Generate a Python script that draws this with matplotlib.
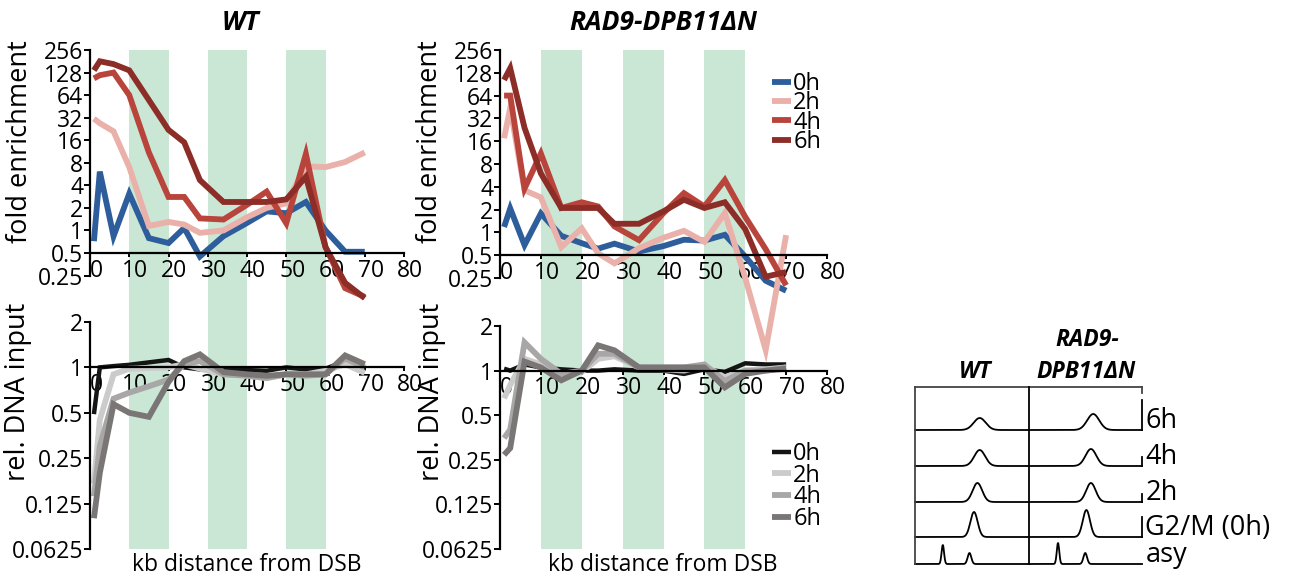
import numpy as np
import matplotlib
matplotlib.use("Agg")
import matplotlib.pyplot as plt
from matplotlib.transforms import ScaledTranslation

plt.rcParams['font.family'] = ['Open Sans', 'DejaVu Sans']

# ---------------- data ----------------
kb = [1, 2.5, 6, 10, 15, 20, 24, 28, 34, 40, 45, 50, 55, 60, 65, 70]
hours = ['0h', '2h', '4h', '6h']

# fold enrichment (ChIP), WT
wt_fold_0h = [0.72, 6.1, 0.84, 3.1, 0.79, 0.68, 1.08, 0.45, 0.84, 1.26, 1.8, 1.7, 2.4, 1.0, 0.52, 0.52]
wt_fold_2h = [31, 27, 21, 7.0, 1.15, 1.3, 1.2, 0.93, 1.0, 1.5, 2.0, 2.3, 7.2, 7.0, 8.2, 11]
wt_fold_4h = [107, 118, 128, 64, 11, 2.8, 2.8, 1.45, 1.4, 2.2, 3.3, 1.25, 10.5, 0.6, 0.17, 0.13]
wt_fold_6h = [137, 181, 166, 137, 55, 22, 15, 4.7, 2.4, 2.4, 2.4, 2.6, 5.2, 0.6, 0.2, 0.125]

# fold enrichment, RAD9-DPB11dN
mut_fold_0h = [1.18, 2.07, 0.68, 1.78, 0.9, 0.72, 0.61, 0.71, 0.56, 0.66, 0.8, 0.78, 0.93, 0.48, 0.23, 0.17]
mut_fold_2h = [17.5, 44, 3.6, 2.9, 0.64, 1.13, 0.53, 0.39, 0.62, 0.85, 1.05, 0.75, 1.8, 0.25, 0.028, 0.92]
mut_fold_4h = [64, 64, 3.8, 11, 2.1, 2.5, 2.2, 1.2, 0.79, 1.8, 3.3, 2.2, 4.9, 1.6, 0.6, 0.2]
mut_fold_6h = [103, 147, 24, 6, 2.1, 2.1, 2.1, 1.3, 1.3, 1.9, 2.7, 2.1, 2.5, 1.1, 0.26, 0.3]

# relative DNA input, WT
wt_inp_0h = [0.49, 1.0, 1.02, 1.04, 1.08, 1.12, 1.0, 0.97, 0.98, 0.96, 0.95, 1.0, 0.97, 0.98, 1.1, 1.05]
wt_inp_2h = [0.17, 0.45, 0.9, 0.98, 0.99, 1.0, 1.05, 0.98, 0.9, 0.88, 0.85, 0.9, 0.9, 0.95, 1.05, 0.92]
wt_inp_4h = [0.14, 0.3, 0.62, 0.68, 0.75, 0.83, 1.05, 1.1, 0.9, 0.88, 0.85, 0.9, 0.88, 0.9, 1.15, 1.0]
wt_inp_6h = [0.1, 0.2, 0.57, 0.5, 0.47, 0.8, 1.1, 1.22, 0.93, 0.9, 0.88, 0.9, 0.9, 0.9, 1.2, 1.05]

# relative DNA input, RAD9-DPB11dN
mut_inp_0h = [1.03, 1.0, 1.1, 1.05, 1.02, 1.0, 1.0, 1.02, 1.0, 1.0, 0.95, 1.02, 0.98, 1.12, 1.1, 1.1]
mut_inp_2h = [0.65, 0.8, 1.2, 1.1, 0.95, 0.98, 1.2, 1.25, 1.05, 1.02, 1.0, 1.08, 0.9, 1.0, 1.02, 1.05]
mut_inp_4h = [0.35, 0.4, 1.55, 1.2, 0.95, 1.0, 1.3, 1.3, 1.05, 1.05, 1.05, 1.1, 0.85, 1.0, 1.0, 1.05]
mut_inp_6h = [0.27, 0.3, 1.15, 1.05, 0.86, 1.0, 1.48, 1.37, 1.05, 1.05, 1.05, 1.05, 0.77, 0.95, 1.0, 1.03]

bands = [(10, 20), (30, 40), (50, 60)]
fold_ticks = [0.25, 0.5, 1, 2, 4, 8, 16, 32, 64, 128, 256]
fold_labels = ['0.25', '0.5', '1', '2', '4', '8', '16', '32', '64', '128', '256']
inp_ticks = [0.0625, 0.125, 0.25, 0.5, 1, 2]
inp_labels = ['0.0625', '0.125', '0.25', '0.5', '1', '2']
x_ticks = [0, 10, 20, 30, 40, 50, 60, 70, 80]

# FACS profiles (rows bottom->top), peak position as fraction of lane, height, width
facs_rows = ['asy', 'G2/M (0h)', '2h', '4h', '6h']
wt_peak_pos = [[0.245, 0.48], [0.52], [0.55], [0.57], [0.57]]
wt_peak_h = [[19, 11], [25], [19], [16], [12]]
wt_peak_w = [[0.011, 0.016], [0.032], [0.042], [0.048], [0.053]]
mut_peak_pos = [[0.26, 0.50], [0.51], [0.55], [0.55], [0.57]]
mut_peak_h = [[21, 11], [27], [19], [17], [16]]
mut_peak_w = [[0.011, 0.016], [0.032], [0.042], [0.048], [0.053]]
mut_edge_spike = [0, 20, 8, 9, 30]

fold_colors = ['#2d5d9b', '#eab0aa', '#b8443b', '#8c2d28']
inp_colors = ['#151515', '#cbcbcb', '#a8a6a6', '#7b7676']

# ---------------- layout ----------------
W, H = 1299, 579
fig = plt.figure(figsize=(W / 100, H / 100), dpi=100)


def px_axes(x0, x1, ytop, ybot, **kw):
    return fig.add_axes([x0 / W, 1 - ybot / H, (x1 - x0) / W, (ybot - ytop) / H], **kw)


def shift_xlabels(ax, dx=6):
    off = ScaledTranslation(dx / 100, 0, fig.dpi_scale_trans)
    for lab in ax.get_xticklabels():
        lab.set_transform(lab.get_transform() + off)


def band_axes(x0, x1):
    bg = px_axes(x0, x1, 50, 549)
    bg.set_xlim(0, 80)
    bg.set_ylim(0, 1)
    for a, b in bands:
        bg.axvspan(a, b, color='#c9e7d4', lw=0)
    bg.axis('off')
    return bg


def style_axes(ax, ticks, labels, lo, cross):
    ax.set_facecolor('none')
    ax.set_yscale('log', base=2)
    ax.set_xlim(0, 80)
    ax.set_ylim(lo, ticks[-1])
    ax.set_yticks(ticks)
    ax.set_yticklabels(labels)
    ax.yaxis.set_minor_locator(matplotlib.ticker.NullLocator())
    ax.set_xticks(x_ticks)
    ax.spines['top'].set_visible(False)
    ax.spines['right'].set_visible(False)
    ax.spines['bottom'].set_position(('data', cross))
    for s in ['left', 'bottom']:
        ax.spines[s].set_linewidth(1.6)
    ax.tick_params(axis='y', direction='out', length=4, width=1.4, pad=1, labelsize=16.5)
    ax.tick_params(axis='x', direction='out', length=3, width=1.4, pad=1, labelsize=16.5)
    shift_xlabels(ax)


band_axes(90, 404)
band_axes(500, 827)

ax_wt = px_axes(90, 404, 50, 275.6)
ax_mut = px_axes(500, 827, 50, 278)
ax_wt_in = px_axes(90, 404, 322, 549)
ax_mut_in = px_axes(500, 827, 326, 549)

for ax in (ax_wt, ax_mut):
    style_axes(ax, fold_ticks, fold_labels, 0.25, 0.5)
for ax in (ax_wt_in, ax_mut_in):
    style_axes(ax, inp_ticks, inp_labels, 0.0625, 1)

wt_fold = [wt_fold_0h, wt_fold_2h, wt_fold_4h, wt_fold_6h]
mut_fold = [mut_fold_0h, mut_fold_2h, mut_fold_4h, mut_fold_6h]
wt_inp = [wt_inp_0h, wt_inp_2h, wt_inp_4h, wt_inp_6h]
mut_inp = [mut_inp_0h, mut_inp_2h, mut_inp_4h, mut_inp_6h]

for i, h in enumerate(hours):
    ax_wt.plot(kb, wt_fold[i], color=fold_colors[i], lw=4.2, clip_on=False,
               solid_joinstyle='miter', solid_capstyle='butt', label=h)
    ax_mut.plot(kb, mut_fold[i], color=fold_colors[i], lw=4.2, clip_on=False,
                solid_joinstyle='miter', solid_capstyle='butt', label=h)
    lw = 3.2 if i == 0 else 4.2
    ax_wt_in.plot(kb, wt_inp[i], color=inp_colors[i], lw=lw, clip_on=False,
                  solid_joinstyle='miter', solid_capstyle='butt', label=h)
    ax_mut_in.plot(kb, mut_inp[i], color=inp_colors[i], lw=lw, clip_on=False,
                   solid_joinstyle='miter', solid_capstyle='butt', label=h)

# legends
leg1 = fig.legend(handles=ax_mut.get_lines(), labels=hours, loc='upper left',
                  bbox_to_anchor=(772 / W, 1 - 72 / H), frameon=False, fontsize=17,
                  handlelength=0.8, handletextpad=0.1, labelspacing=-0.2,
                  borderpad=0, borderaxespad=0)
leg2 = fig.legend(handles=ax_mut_in.get_lines(), labels=hours, loc='upper left',
                  bbox_to_anchor=(772 / W, 1 - 442 / H), frameon=False, fontsize=17,
                  handlelength=0.8, handletextpad=0.1, labelspacing=-0.1,
                  borderpad=0, borderaxespad=0)

# titles and axis labels
fig.text(240 / W, 1 - 22 / H, 'WT', ha='center', va='center', fontsize=19,
         fontweight='bold', fontstyle='italic')
fig.text(663 / W, 1 - 22 / H, 'RAD9-DPB11ΔN', ha='center', va='center', fontsize=19,
         fontweight='bold', fontstyle='italic')
fig.text(20 / W, 1 - 142 / H, 'fold enrichment', rotation=90, ha='center', va='center', fontsize=19.5)
fig.text(430 / W, 1 - 142 / H, 'fold enrichment', rotation=90, ha='center', va='center', fontsize=19.5)
fig.text(18 / W, 1 - 392 / H, 'rel. DNA input', rotation=90, ha='center', va='center', fontsize=19.5)
fig.text(432 / W, 1 - 392 / H, 'rel. DNA input', rotation=90, ha='center', va='center', fontsize=19.5)
fig.text(247 / W, 1 - 565 / H, 'kb distance from DSB', ha='center', va='center', fontsize=16.5)
fig.text(663 / W, 1 - 565 / H, 'kb distance from DSB', ha='center', va='center', fontsize=16.5)

# ---------------- FACS panel ----------------
fx = px_axes(915, 1142, 387, 565)
fx.set_xlim(0, 2)
fx.set_ylim(0, 178)
fx.axis('off')
row_base = [1, 28, 63, 99, 135]
grid = np.linspace(0, 1, 400)
for r in range(len(facs_rows)):
    for lane, (pos, hgt, wid) in enumerate([(wt_peak_pos, wt_peak_h, wt_peak_w),
                                            (mut_peak_pos, mut_peak_h, mut_peak_w)]):
        prof = np.zeros_like(grid)
        for p, hh, w in zip(pos[r], hgt[r], wid[r]):
            prof += hh * np.exp(-0.5 * ((grid - p) / w) ** 2)
        fx.plot(lane + grid, row_base[r] + prof, color='black', lw=1.3, clip_on=False)
    if mut_edge_spike[r]:
        fx.plot([2, 2], [row_base[r], row_base[r] + mut_edge_spike[r]], color='black',
                lw=1.3, clip_on=False)
    fx.text(2.03, row_base[r] + 9, facs_rows[r], ha='left', va='center', fontsize=19.5)

fx.plot([0, 2], [178, 178], color='#444444', lw=1.3, clip_on=False)
fx.plot([0, 0], [1, 178], color='#444444', lw=1.3, clip_on=False)
fx.plot([1, 1], [1, 178], color='black', lw=1.3, clip_on=False)
fx.plot([2, 2], [172, 178], color='#444444', lw=1.3, clip_on=False)

fig.text(975 / W, 1 - 372 / H, 'WT', ha='center', va='center', fontsize=16.5,
         fontweight='bold', fontstyle='italic')
fig.text(1087 / W, 1 - 340 / H, 'RAD9-', ha='center', va='center', fontsize=16.5,
         fontweight='bold', fontstyle='italic')
fig.text(1086 / W, 1 - 372 / H, 'DPB11ΔN', ha='center', va='center', fontsize=16.5,
         fontweight='bold', fontstyle='italic')

fig.savefig('out.png', dpi=100)
